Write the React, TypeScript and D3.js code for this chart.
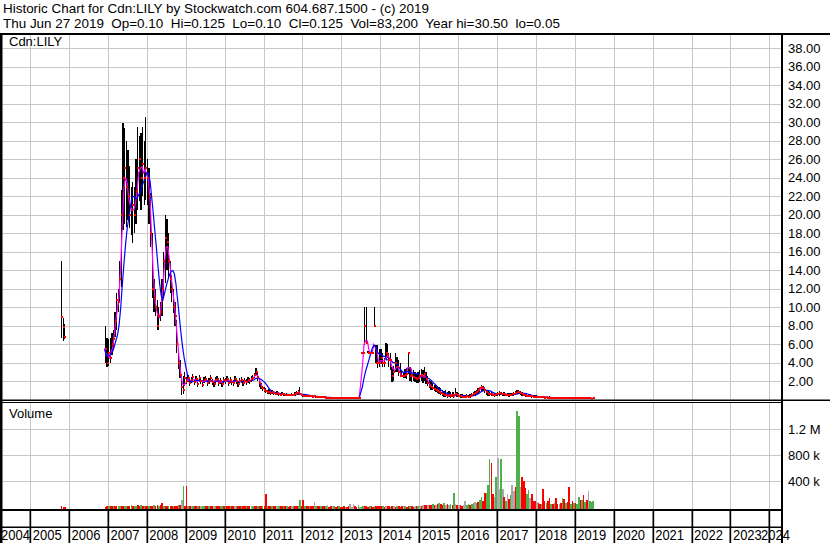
import React from 'react';
import * as d3 from 'd3';

// ---------- DATA ----------
// Short 2005 trading segment
const dates2005 = ['2005-10-16', '2005-11-01', '2005-11-16'];
const high2005 = [15.0, 8.8, 8.2];
const low2005 = [6.7, 6.3, 6.5];
const close2005 = [8.9, 7.8, 6.8];
const vol2005 = [6, 3, 2];
const dir2005 = 'ddd';

// Main series: semi-monthly periods (1st and 16th) starting Dec 1 2006
const high = [
  7.9, 6.6,
  6.5, 6.6, 7.2, 7.5, 9.5, 11.5, 12.0, 15.0, 22.6, 29.9, 29.3, 28.0, 27.0, 25.2, 23.0, 23.5, 23.0, 26.0, 29.5, 28.5, 28.8, 29.5, 28.0, 30.5,
  26.0, 25.0, 22.3, 18.0, 13.0, 12.0, 10.8, 10.0, 10.5, 13.0, 16.0, 19.9, 19.5, 18.0, 15.0, 13.5, 12.0, 10.5, 8.6, 5.5, 4.3, 2.8, 2.5, 3.0,
  2.4, 2.6, 2.2, 2.4, 2.8, 2.2, 2.5, 2.0, 2.6, 2.3, 2.0, 2.4, 2.5, 2.1, 2.3, 2.7, 2.2, 2.0, 2.4, 2.5, 2.1, 2.3, 2.0, 2.4,
  2.3, 2.5, 2.1, 2.4, 2.2, 2.1, 2.5, 2.3, 2.0, 2.3, 2.4, 2.1, 2.3, 2.2, 2.4, 2.3, 2.5, 2.6, 2.9, 3.4, 3.0, 2.2, 1.8, 1.5,
  1.3, 1.2, 1.0, 1.1, 0.9, 1.0, 0.9, 0.8, 0.9, 0.8, 0.7, 0.8, 0.7, 0.6, 0.7, 0.6, 0.6, 0.7, 0.6, 0.8, 0.9, 1.0, 1.4, 0.6,
  0.55, 0.5, 0.5, 0.45, 0.5, 0.45, 0.4, 0.45, 0.4, 0.4, 0.35, 0.4, 0.35, 0.35, 0.3, 0.3, 0.3, 0.25, 0.25, 0.25, 0.2, 0.2, 0.2, 0.2,
  0.13, 0.13, 0.13, 0.13, 0.13, 0.13, 0.13, 0.13, 0.13, 0.13, 0.13, 0.13, 5.0, 5.0, 10.0, 10.0, 5.2, 5.0, 5.0, 5.0, 10.0, 5.9, 5.9, 5.5,
  5.5, 5.0, 4.5, 6.1, 6.0, 5.0, 5.0, 3.5, 3.6, 5.0, 4.6, 4.3, 4.0, 3.2, 3.0, 3.3, 3.4, 5.0, 3.5, 3.3, 3.2, 3.0, 2.8, 3.0,
  3.2, 3.3, 3.2, 3.5, 3.0, 2.5, 2.1, 2.0, 1.8, 1.6, 1.6, 1.5, 1.3, 1.2, 1.0, 0.9, 1.0, 0.8, 0.9, 0.8, 0.8, 0.8, 1.2, 0.8,
  0.7, 0.6, 0.6, 0.5, 0.5, 0.6, 0.5, 0.6, 0.7, 0.8, 0.9, 1.0, 1.2, 1.4, 1.57, 1.5, 1.3, 1.0, 0.9, 0.8, 0.8, 0.7, 0.7, 0.75,
  0.8, 0.9, 0.8, 0.75, 0.8, 0.7, 0.7, 0.65, 0.7, 0.7, 0.8, 0.9, 1.0, 1.0, 0.9, 0.8, 0.7, 0.65, 0.6, 0.6, 0.55, 0.5, 0.5, 0.45,
  0.45, 0.4, 0.4, 0.4, 0.35, 0.35, 0.35, 0.3, 0.35, 0.3, 0.3, 0.3, 0.3, 0.3, 0.25, 0.3, 0.25, 0.25, 0.25, 0.25, 0.25, 0.2, 0.2, 0.2,
  0.2, 0.2, 0.2, 0.18, 0.2, 0.18, 0.17, 0.17, 0.15, 0.15, 0.15, 0.125,
];
const low = [
  3.9, 3.5,
  3.6, 4.0, 4.8, 5.5, 6.8, 7.5, 9.5, 10.5, 12.2, 18.3, 19.0, 18.7, 19.4, 18.5, 17.8, 16.9, 18.0, 19.0, 20.5, 21.5, 20.5, 22.0, 21.0, 21.6,
  21.0, 19.0, 16.5, 11.0, 9.5, 9.0, 7.5, 7.5, 8.5, 9.0, 11.0, 12.6, 14.0, 13.0, 11.5, 10.5, 9.3, 8.0, 5.0, 3.3, 2.3, 0.5, 0.6, 1.5,
  1.7, 1.9, 1.5, 1.8, 2.0, 1.6, 1.9, 1.4, 1.9, 1.7, 1.3, 1.8, 1.9, 1.5, 1.7, 1.9, 1.6, 1.4, 1.8, 1.9, 1.5, 1.7, 1.4, 1.8,
  1.7, 1.9, 1.5, 1.8, 1.6, 1.5, 1.9, 1.7, 1.4, 1.7, 1.8, 1.5, 1.7, 1.6, 1.8, 1.7, 1.9, 2.0, 2.3, 2.6, 2.0, 1.4, 1.1, 0.9,
  0.8, 0.7, 0.6, 0.6, 0.5, 0.6, 0.5, 0.5, 0.5, 0.4, 0.4, 0.5, 0.4, 0.4, 0.4, 0.35, 0.35, 0.4, 0.35, 0.4, 0.5, 0.5, 0.5, 0.35,
  0.3, 0.3, 0.3, 0.25, 0.3, 0.25, 0.25, 0.25, 0.2, 0.2, 0.2, 0.2, 0.2, 0.2, 0.15, 0.15, 0.15, 0.15, 0.13, 0.13, 0.13, 0.13, 0.13, 0.13,
  0.13, 0.13, 0.13, 0.13, 0.13, 0.13, 0.13, 0.13, 0.13, 0.13, 0.13, 0.13, 5.0, 5.0, 5.9, 6.0, 5.0, 5.0, 5.0, 5.0, 7.9, 3.9, 3.4, 3.5,
  3.8, 3.5, 3.5, 4.6, 4.5, 3.5, 3.2, 1.9, 2.0, 3.0, 3.0, 2.5, 2.4, 2.4, 2.3, 2.3, 2.2, 2.8, 2.0, 1.9, 2.0, 1.9, 1.8, 1.8,
  1.9, 2.0, 1.8, 2.0, 1.7, 1.5, 1.2, 1.0, 1.0, 0.9, 0.8, 0.67, 0.6, 0.5, 0.4, 0.3, 0.3, 0.2, 0.25, 0.2, 0.3, 0.2, 0.5, 0.3,
  0.25, 0.2, 0.2, 0.2, 0.15, 0.2, 0.2, 0.2, 0.3, 0.35, 0.4, 0.5, 0.6, 0.8, 0.9, 0.9, 0.7, 0.5, 0.4, 0.35, 0.4, 0.35, 0.3, 0.35,
  0.4, 0.4, 0.45, 0.4, 0.4, 0.35, 0.35, 0.3, 0.35, 0.35, 0.4, 0.5, 0.6, 0.6, 0.5, 0.4, 0.35, 0.3, 0.3, 0.25, 0.25, 0.2, 0.2, 0.2,
  0.2, 0.15, 0.15, 0.15, 0.15, 0.15, 0.15, 0.15, 0.15, 0.15, 0.1, 0.1, 0.1, 0.1, 0.1, 0.1, 0.1, 0.1, 0.1, 0.1, 0.1, 0.1, 0.1, 0.1,
  0.1, 0.1, 0.1, 0.1, 0.1, 0.1, 0.08, 0.08, 0.08, 0.07, 0.05, 0.1,
];
const close = [
  5.5, 4.0,
  5.0, 4.5, 6.0, 6.5, 8.5, 10.8, 10.5, 13.0, 20.0, 24.0, 25.0, 23.0, 22.0, 20.0, 20.5, 21.0, 20.0, 22.5, 25.0, 26.0, 24.0, 25.5, 24.0, 25.0,
  24.0, 22.0, 18.0, 12.0, 11.0, 10.0, 8.0, 9.0, 9.5, 12.0, 15.0, 17.5, 17.0, 15.0, 13.0, 12.0, 10.0, 9.0, 6.0, 4.0, 2.6, 1.4, 1.0, 2.3,
  2.0, 2.3, 1.8, 2.1, 2.4, 1.9, 2.2, 1.7, 2.3, 2.0, 1.6, 2.1, 2.2, 1.8, 2.0, 2.3, 1.9, 1.7, 2.1, 2.2, 1.8, 2.0, 1.7, 2.1,
  2.0, 2.2, 1.8, 2.1, 1.9, 1.8, 2.2, 2.0, 1.7, 2.0, 2.1, 1.8, 2.0, 1.9, 2.1, 2.0, 2.2, 2.3, 2.6, 3.0, 2.4, 1.8, 1.4, 1.2,
  1.0, 0.9, 0.8, 0.8, 0.7, 0.8, 0.7, 0.6, 0.7, 0.6, 0.5, 0.6, 0.55, 0.5, 0.5, 0.45, 0.5, 0.5, 0.45, 0.6, 0.7, 0.8, 0.6, 0.45,
  0.4, 0.4, 0.35, 0.35, 0.4, 0.35, 0.3, 0.35, 0.3, 0.3, 0.25, 0.3, 0.25, 0.25, 0.2, 0.2, 0.2, 0.2, 0.15, 0.15, 0.15, 0.13, 0.13, 0.13,
  0.13, 0.13, 0.13, 0.13, 0.13, 0.13, 0.13, 0.13, 0.13, 0.13, 0.13, 0.13, 5.0, 5.0, 7.9, 6.1, 5.0, 5.0, 5.0, 5.0, 7.9, 3.9, 4.0, 4.0,
  4.5, 4.0, 4.0, 5.0, 4.8, 4.3, 4.3, 2.5, 3.0, 4.0, 3.5, 3.0, 2.5, 2.5, 2.5, 2.6, 2.8, 5.0, 2.5, 2.6, 2.4, 2.3, 2.2, 2.3,
  2.5, 2.6, 2.4, 2.8, 2.2, 1.8, 1.5, 1.4, 1.2, 1.1, 1.0, 0.9, 0.8, 0.7, 0.6, 0.5, 0.5, 0.4, 0.45, 0.4, 0.45, 0.4, 0.6, 0.5,
  0.4, 0.35, 0.3, 0.3, 0.3, 0.35, 0.3, 0.4, 0.5, 0.6, 0.7, 0.8, 1.0, 1.2, 1.3, 1.2, 1.0, 0.8, 0.6, 0.6, 0.55, 0.5, 0.5, 0.55,
  0.6, 0.65, 0.6, 0.55, 0.6, 0.5, 0.5, 0.45, 0.5, 0.55, 0.6, 0.7, 0.85, 0.85, 0.7, 0.6, 0.5, 0.45, 0.4, 0.4, 0.35, 0.35, 0.3, 0.3,
  0.3, 0.25, 0.25, 0.25, 0.25, 0.2, 0.25, 0.2, 0.2, 0.2, 0.2, 0.2, 0.2, 0.2, 0.15, 0.2, 0.15, 0.15, 0.15, 0.15, 0.15, 0.15, 0.15, 0.15,
  0.15, 0.15, 0.13, 0.13, 0.15, 0.13, 0.12, 0.12, 0.12, 0.12, 0.1, 0.125,
];
// Volume in thousands of shares
const volume = [
  3, 5,
  8, 10, 6, 12, 9, 15, 11, 18, 14, 20, 12, 15, 10, 18, 22, 15, 12, 20, 28, 18, 30, 15, 12, 18,
  15, 12, 20, 18, 25, 15, 22, 12, 30, 60, 20, 18, 15, 12, 20, 15, 18, 12, 15, 22, 30, 110, 320, 20,
  320, 10, 8, 12, 5, 8, 10, 6, 9, 5, 8, 10, 5, 6, 8, 5, 10, 6, 8, 5, 6, 9, 5, 8,
  5, 8, 6, 5, 10, 8, 6, 5, 8, 6, 5, 8, 6, 5, 8, 10, 6, 8, 10, 15, 12, 8, 6, 5,
  10, 190, 8, 5, 6, 8, 5, 6, 5, 8, 6, 5, 8, 6, 5, 4, 6, 8, 10, 15, 20, 12, 108, 8,
  108, 8, 5, 6, 10, 8, 5, 72, 6, 5, 8, 10, 5, 6, 8, 30, 4, 5, 6, 5, 4, 6, 5, 4,
  4, 5, 4, 3, 5, 45, 4, 40, 5, 4, 30, 4, 3, 8, 5, 6, 4, 5, 6, 4, 5, 8, 6, 5,
  5, 6, 4, 5, 6, 5, 4, 5, 6, 4, 5, 6, 4, 5, 6, 5, 4, 5, 6, 5, 4, 5, 6, 5,
  12, 20, 25, 30, 22, 28, 25, 30, 40, 35, 30, 45, 57, 40, 30, 57, 35, 40, 30, 45, 35, 210, 40, 30,
  30, 25, 20, 35, 92, 30, 40, 35, 45, 60, 80, 55, 70, 100, 149, 90, 220, 210, 338, 734, 681, 200, 150, 457,
  748, 272, 734, 272, 150, 90, 200, 120, 180, 338, 250, 300, 1477, 1390, 300, 457, 392, 288, 200, 251, 130, 200, 90, 82,
  70, 60, 50, 40, 272, 82, 60, 82, 134, 50, 40, 60, 134, 50, 40, 60, 128, 120, 60, 70, 297, 50, 82, 60,
  60, 50, 158, 110, 100, 185, 80, 100, 236, 90, 70, 83,
];
// Volume bar direction per period: u = up, d = down, n = unchanged
const volDirByYear = [
  'dd',
  'uddudduudduudduduuddudud',
  'dudduddudduddudduddudnud',
  'dudnuddudnuudduddnudduud',
  'udduddnuddudduddnudduddu',
  'ddudduddnuddududdnudduud',
  'dudduddnudduddunddnuddud',
  'ddnddnnnddunuudddudduddd',
  'dudnddudndudddnudduddndu',
  'ndnddnddudnduddundnudund',
  'nddnnuuduunuduudduuuddnu',
  'nnundundunnduunddduunddd',
  'nddudduddududdndududdudu',
  'duudududnuuu',
];

const priceTicks = d3.range(2, 40, 2);
const volTicks = [400, 800, 1200];
const volTickLabels = ['400 k', '800 k', '1.2 M'];
const years = d3.range(2004, 2025);

const headerLine1 = 'Historic Chart for Cdn:LILY by Stockwatch.com 604.687.1500 - (c) 2019';
const headerLine2 = 'Thu Jun 27 2019  Op=0.10  Hi=0.125  Lo=0.10  Cl=0.125  Vol=83,200  Year hi=30.50  lo=0.05';

// ---------- CHART ----------
const FONT = '"Liberation Sans", Arial, Helvetica, sans-serif';
const GRID = '#c8c8c8';
const VCOL: Record<string, string> = { u: '#4cb34c', d: '#ff0000', n: '#a8a8a8' };

export default function App() {
  const parse = d3.timeParse('%Y-%m-%d');
  const x = d3.scaleTime().domain([new Date(2005, 0, 1), new Date(2024, 0, 1)]).range([30.2, 769.3]);
  const yP = d3.scaleLinear().domain([0, 38]).range([399.5, 48]);
  const yV = d3.scaleLinear().domain([0, 1200]).range([506.8, 428.8]);

  const volDir = volDirByYear.join('');
  const mainDates = high.map((_, i) => new Date(2006, 11 + Math.floor(i / 2), i % 2 ? 16 : 1));
  const bars = [
    ...dates2005.map((d, i) => ({ date: parse(d) as Date, h: high2005[i], l: low2005[i], c: close2005[i], v: vol2005[i], dir: dir2005[i] })),
    ...mainDates.map((d, i) => ({ date: d, h: high[i], l: low[i], c: close[i], v: volume[i], dir: volDir[i] || 'n' })),
  ];

  const sma = (n: number) => close.map((_, i) => d3.mean(close.slice(Math.max(0, i - n + 1), i + 1)) as number);
  const maShort = sma(3);
  const maLong = sma(8);
  const line = d3.line<number>().x((_, i) => x(mainDates[i])).y((v) => yP(v));

  const snap = (v: number) => Math.round(v) + 0.5;
  const yearX = (yr: number) => x(new Date(yr, 0, 1));

  return (
    <svg width={830} height={543} style={{ position: 'absolute', left: 0, top: 0, background: '#fff' }} fontFamily={FONT}>
      <defs>
        <clipPath id="pclip"><rect x={2.5} y={35} width={778.5} height={364.5} /></clipPath>
        <clipPath id="vclip"><rect x={2.5} y={403} width={778.5} height={106} /></clipPath>
      </defs>
      <rect x={0} y={0} width={830} height={543} fill="#fff" />
      {/* header */}
      <text x={3} y={13} fontSize={13.45} fill="#000" style={{ whiteSpace: 'pre' }}>{headerLine1}</text>
      <text x={3} y={28} fontSize={13.45} fill="#000" style={{ whiteSpace: 'pre' }}>{headerLine2}</text>

      {/* price grid */}
      {priceTicks.map((t) => (
        <line key={'pg' + t} x1={2.5} x2={781} y1={snap(yP(t))} y2={snap(yP(t))} stroke={GRID} strokeWidth={1} />
      ))}
      {years.filter((y) => y >= 2005).map((y) => (
        <line key={'pv' + y} x1={snap(yearX(y))} x2={snap(yearX(y))} y1={35} y2={399.5} stroke={GRID} strokeWidth={1} />
      ))}
      {/* volume grid */}
      {volTicks.map((t) => (
        <line key={'vg' + t} x1={2.5} x2={781} y1={snap(yV(t))} y2={snap(yV(t))} stroke={GRID} strokeWidth={1} />
      ))}
      {years.filter((y) => y >= 2005).map((y) => (
        <line key={'vv' + y} x1={snap(yearX(y))} x2={snap(yearX(y))} y1={403} y2={509} stroke={GRID} strokeWidth={1} />
      ))}

      {/* price bars */}
      <g clipPath="url(#pclip)">
        {bars.map((b, i) => {
          const bx = x(b.date);
          return (
            <rect key={'b' + i} x={bx} y={yP(b.h)} width={1.3} height={Math.max(0, yP(b.l) - yP(b.h))} fill="#000" shapeRendering="crispEdges" />
          );
        })}
        <path d={line(maShort) || ''} fill="none" stroke="#ff00ff" strokeWidth={1.2} />
        <path d={line(maLong) || ''} fill="none" stroke="#0000ff" strokeWidth={1.2} />
        {bars.map((b, i) => (
          <rect key={'c' + i} x={x(b.date) + 0.3} y={yP(b.c) - 1} width={2} height={2} fill="#ff0000" shapeRendering="crispEdges" />
        ))}
      </g>

      {/* volume bars */}
      <g clipPath="url(#vclip)">
        {bars.map((b, i) => (
          <rect key={'v' + i} x={x(b.date)} y={yV(b.v)} width={1.6} height={509 - yV(b.v)} fill={VCOL[b.dir]} shapeRendering="crispEdges" />
        ))}
      </g>

      {/* labels inside panels */}
      <text x={9} y={45.5} fontSize={13} fill="#000">Cdn:LILY</text>
      <text x={9} y={418} fontSize={13} fill="#000">Volume</text>

      {/* right axis labels */}
      {priceTicks.map((t) => (
        <text key={'pl' + t} x={788} y={yP(t) + 4.7} fontSize={13} fill="#000">{t.toFixed(2)}</text>
      ))}
      {volTicks.map((t, i) => (
        <text key={'vl' + t} x={788} y={yV(t) + 4.7} fontSize={13} fill="#000">{volTickLabels[i]}</text>
      ))}

      {/* frame lines */}
      <rect x={0} y={33} width={830} height={2} fill="#000" />
      <rect x={0} y={33} width={2.5} height={510} fill="#000" />
      <rect x={781} y={33} width={2} height={510} fill="#000" />
      <rect x={0} y={399.5} width={830} height={1.5} fill="#000" />
      <rect x={0} y={402} width={782} height={1} fill="#000" />
      <rect x={0} y={509} width={782} height={2} fill="#000" />
      <rect x={0} y={526.5} width={782} height={1.5} fill="#000" />

      {/* year axis */}
      {years.filter((y) => y >= 2005).map((y) => (
        <rect key={'ys' + y} x={Math.round(yearX(y)) - 0.5} y={510} width={1.7} height={33} fill="#000" />
      ))}
      {years.map((y) => {
        const lx = Math.min(Math.max(yearX(y), -1.5) + 2.5, 761);
        return (
          <text key={'yl' + y} transform={`translate(${lx},540) scale(1,1.15)`} fontSize={13} fill="#000">{String(y)}</text>
        );
      })}
    </svg>
  );
}
